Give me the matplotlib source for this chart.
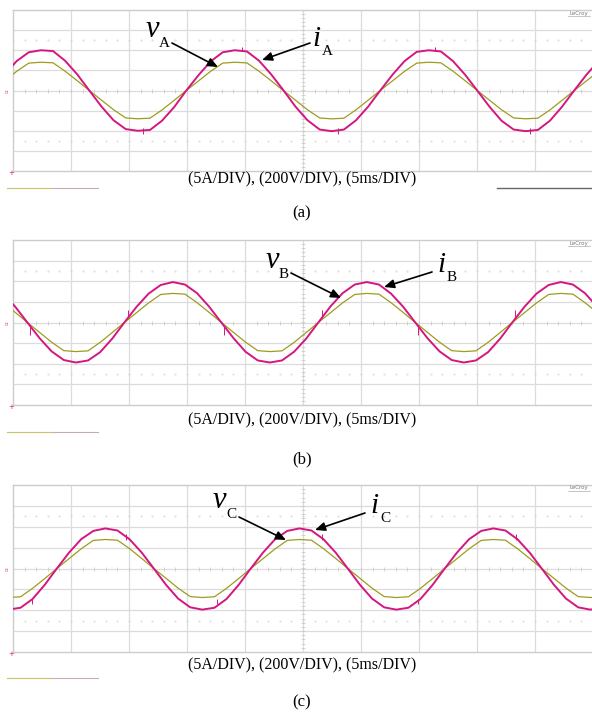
import numpy as np
import matplotlib
matplotlib.use("Agg")
import matplotlib.pyplot as plt
from matplotlib.lines import Line2D
from matplotlib.patches import FancyArrowPatch

# scope settings: 5 A/div, 200 V/div, 5 ms/div
A_PER_DIV = 5.0
V_PER_DIV = 200.0
MS_PER_DIV = 5.0

CUR_COLOR = "#d4177f"
VOLT_COLOR = "#9e9c1e"
GRID_COLOR = "#dcdcdc"

# ---------------- panel (a) : phase A ----------------
t_a = [-1.78, -0.74, 0.31, 1.36, 2.40, 3.45, 4.49, 5.54, 6.58, 7.63,
       8.67, 9.72, 10.76, 11.81, 12.85, 13.90, 14.94, 15.99, 17.03, 18.08,
       19.12, 20.17, 21.21, 22.26, 23.30, 24.35, 25.39, 26.44, 27.48, 28.53,
       29.57, 30.62, 31.66, 32.71, 33.75, 34.80, 35.84, 36.89, 37.93, 38.98,
       40.02, 41.07, 42.11, 43.16, 44.20, 45.25, 46.29, 47.34, 48.38, 49.43,
       50.47]
i_a = [0.0, 3.9, 7.3, 9.5, 10.0, 9.8, 7.4, 4.0,
       0.0, -4.0, -7.4, -9.6, -10.0, -9.8, -7.5, -4.1,
       0.0, 3.8, 7.2, 9.5, 10.0, 9.7, 7.4, 4.0,
       0.1, -4.0, -7.4, -9.7, -10.1, -9.7, -7.4, -4.0,
       0.0, 3.9, 7.3, 9.6, 10.0, 9.7, 7.3, 3.9,
       0.0, -4.0, -7.5, -9.7, -10.1, -9.8, -7.5, -4.0,
       0.0, 3.9, 7.3]
v_a = [0, 95, 190, 272, 281, 275, 192, 97,
       0, -96, -191, -273, -281, -275, -193, -97,
       0, 95, 190, 272, 281, 274, 191, 96,
       0, -96, -192, -273, -282, -275, -192, -96,
       0, 95, 190, 272, 281, 275, 192, 97,
       0, -96, -191, -273, -281, -275, -193, -97,
       0, 95, 190]
spike_t_a = [11.2, 19.7, 28.0, 36.4, 44.6]
spike_lo_a = [-10.9, 9.9, -10.9, 9.9, -10.9]
spike_hi_a = [-9.3, 10.9, -9.3, 10.9, -9.3]

# ---------------- panel (b) : phase B ----------------
t_b = [-0.85, 0.20, 1.24, 2.29, 3.33, 4.38, 5.42, 6.47, 7.51, 8.56,
       9.60, 10.65, 11.69, 12.74, 13.78, 14.83, 15.87, 16.92, 17.96, 19.01,
       20.05, 21.10, 22.14, 23.19, 24.23, 25.28, 26.32, 27.37, 28.41, 29.46,
       30.50, 31.55, 32.59, 33.64, 34.68, 35.73, 36.77, 37.82, 38.86, 39.91,
       40.95, 42.00, 43.04, 44.09, 45.13, 46.18, 47.22, 48.27, 49.31, 50.36]
i_b = [7.1, 3.8,
       0.0, -3.8, -7.0, -9.1, -9.7, -9.2, -7.2, -3.9,
       0.0, 3.8, 7.0, 9.1, 9.8, 9.2, 7.1, 3.8,
       0.0, -3.8, -7.1, -9.2, -9.7, -9.2, -7.1, -3.9,
       0.0, 3.9, 7.1, 9.2, 9.8, 9.2, 7.0, 3.8,
       0.0, -3.8, -7.0, -9.1, -9.7, -9.2, -7.2, -3.9,
       0.0, 3.8, 7.0, 9.1, 9.8, 9.2, 7.1, 3.8]
v_b = [192, 97,
       0, -96, -191, -273, -282, -275, -193, -97,
       0, 95, 190, 272, 282, 275, 192, 97,
       0, -96, -191, -273, -282, -275, -193, -97,
       0, 95, 190, 272, 282, 275, 192, 97,
       0, -96, -191, -273, -282, -275, -193, -97,
       0, 95, 190, 272, 282, 275, 192, 97]
spike_t_b = [1.5, 9.9, 18.2, 26.6, 34.9, 43.3]
spike_lo_b = [-3.0, 1.0, -3.0, 1.0, -3.0, 1.0]
spike_hi_b = [-1.0, 3.0, -1.0, 3.0, -1.0, 3.0]

# ---------------- panel (c) : phase C ----------------
t_c = [-0.40, 0.65, 1.69, 2.74, 3.78, 4.83, 5.87, 6.92, 7.96, 9.01,
       10.05, 11.10, 12.14, 13.19, 14.23, 15.28, 16.32, 17.37, 18.41, 19.46,
       20.50, 21.55, 22.59, 23.64, 24.68, 25.73, 26.77, 27.82, 28.86, 29.91,
       30.95, 32.00, 33.04, 34.09, 35.13, 36.18, 37.22, 38.27, 39.31, 40.36,
       41.40, 42.45, 43.49, 44.54, 45.58, 46.63, 47.67, 48.72, 49.76, 50.81]
i_c = [-9.85, -9.4, -7.3, -3.9,
       0.0, 3.8, 7.0, 9.0, 9.6, 9.1, 7.0, 3.8,
       0.0, -3.9, -7.2, -9.3, -9.85, -9.4, -7.3, -3.9,
       0.0, 3.8, 7.0, 9.0, 9.6, 9.1, 7.0, 3.8,
       0.0, -3.9, -7.2, -9.3, -9.85, -9.4, -7.3, -3.9,
       0.0, 3.8, 7.0, 9.0, 9.6, 9.1, 7.0, 3.8,
       0.0, -3.9, -7.2, -9.3, -9.85, -9.4]
v_c = [-278, -271, -190, -96,
       0, 94, 188, 269, 278, 271, 190, 96,
       0, -94, -188, -269, -278, -271, -190, -96,
       0, 94, 188, 269, 278, 271, 190, 96,
       0, -94, -188, -269, -278, -271, -190, -96,
       0, 94, 188, 269, 278, 271, 190, 96,
       0, -94, -188, -269, -278, -271]
spike_t_c = [1.6, 9.7, 17.6, 26.6, 34.9, 43.4]
spike_lo_c = [-8.6, 6.8, -8.6, 6.8, -8.6, 6.8]
spike_hi_c = [-7.2, 8.2, -7.2, 8.2, -7.2, 8.2]

caption = "(5A/DIV), (200V/DIV), (5ms/DIV)"
panel_tags = ["(a)", "(b)", "(c)"]

#-----------------------------------------------------#

W, H = 592, 713
fig = plt.figure(figsize=(W / 100, H / 100), dpi=100)
SERIF = ["Liberation Serif", "DejaVu Serif"]


def fx(px):
    return px / W


def fy(py):
    return 1 - py / H


def fig_line(x0, x1, y, color, lw=1.0):
    fig.add_artist(Line2D([fx(x0), fx(x1)], [fy(y), fy(y)], color=color,
                          lw=lw, transform=fig.transFigure))


def scope_panel(top, bottom, t, cur, volt, sp_t, sp_lo, sp_hi):
    ax = fig.add_axes([fx(13), fy(bottom), fx(580), (bottom - top) / H])
    ax.set_xlim(0, 10)
    ax.set_ylim(-4, 4)
    ax.set_xticks([])
    ax.set_yticks([])
    for s in ax.spines.values():
        s.set_color("#cccccc")
        s.set_linewidth(1.0)
    for gx in range(1, 10):
        ax.axvline(gx, color=GRID_COLOR, lw=0.9, zorder=1)
    for gy in range(-3, 4):
        ax.axhline(gy, color=GRID_COLOR, lw=0.9, zorder=1)
    # fine ticks on the centre cross and faint dotted rows
    fine = np.arange(0, 10.01, 0.2)
    ax.plot(fine, np.zeros_like(fine), ls="none", marker="|", ms=2.6,
            mew=0.5, color="#c4c4c4", zorder=1)
    fine_y = np.arange(-4, 4.01, 0.2)
    ax.plot(np.full_like(fine_y, 5), fine_y, ls="none", marker="_", ms=2.6,
            mew=0.5, color="#c4c4c4", zorder=1)
    for dy in (2.5, -2.5):
        ax.plot(fine, np.full_like(fine, dy), ls="none", marker=".", ms=0.8,
                color="#d4d4d4", zorder=1)

    tt = np.array(t) / MS_PER_DIV
    ax.plot(tt, np.array(volt) / V_PER_DIV, color=VOLT_COLOR, lw=0.9, zorder=3)
    ax.plot(tt, np.array(cur) / A_PER_DIV, color=CUR_COLOR, lw=1.4, zorder=4)
    ax.vlines(np.array(sp_t) / MS_PER_DIV, np.array(sp_lo) / A_PER_DIV,
              np.array(sp_hi) / A_PER_DIV, color=CUR_COLOR, lw=0.7, zorder=4)
    return ax


def label(xv, yv, xi, yi, name, v_tail, v_head, i_tail, i_head):
    fig.text(fx(xv), fy(yv), "v", family=SERIF, style="italic", fontsize=22,
             ha="left", va="baseline")
    fig.text(fx(xv + 13), fy(yv + 10), name, family=SERIF, fontsize=11,
             ha="left", va="baseline")
    fig.text(fx(xi), fy(yi), "i", family=SERIF, style="italic", fontsize=21,
             ha="left", va="baseline")
    fig.text(fx(xi + 10), fy(yi + 9), name, family=SERIF, fontsize=11,
             ha="left", va="baseline")
    for tail, head in ((v_tail, v_head), (i_tail, i_head)):
        fig.add_artist(FancyArrowPatch(
            (fx(tail[0]), fy(tail[1])), (fx(head[0]), fy(head[1])),
            transform=fig.transFigure,
            arrowstyle="-|>,head_length=6,head_width=2.6",
            color="black", lw=1.2, shrinkA=0, shrinkB=0))


panels = [
    (10, 171, t_a, i_a, v_a, spike_t_a, spike_lo_a, spike_hi_a),
    (240, 405, t_b, i_b, v_b, spike_t_b, spike_lo_b, spike_hi_b),
    (485, 652, t_c, i_c, v_c, spike_t_c, spike_lo_c, spike_hi_c),
]
cap_y = [179, 420, 665]
tag_y = [213, 459, 702]
ind_y = [188, 432, 678]

for n, p in enumerate(panels):
    top, bottom = p[0], p[1]
    scope_panel(*p)
    mid = (top + bottom) / 2
    fig.text(fx(8), fy(mid), "C2", color=CUR_COLOR, fontsize=2.5,
             ha="center", va="center", rotation=90)
    fig.text(fx(11), fy(bottom + 2), "+", color=CUR_COLOR, fontsize=5,
             ha="center", va="center")
    fig.text(fx(579), fy(top + 3), "LeCroy", color="#777777", fontsize=4,
             ha="center", va="center")
    fig_line(568, 590, top + 5.5, "#999999", 0.4)
    fig_line(7, 52, ind_y[n], "#c8c468", 0.8)
    fig_line(53, 98, ind_y[n], "#c9a8b8", 0.8)
    fig.text(fx(302), fy(cap_y[n]), caption, family=SERIF, fontsize=11.5,
             ha="center", va="center")
    fig.text(fx(302), fy(tag_y[n]), panel_tags[n], family=SERIF, fontsize=12,
             ha="center", va="center")

fig_line(497, 592, 188, "#666666", 1.0)

label(146, 37, 312, 46, "A", (172, 43), (218, 67), (310, 43), (262, 60))
label(266, 268, 437, 272, "B", (291, 273), (341, 298), (432, 272), (384, 287))
label(213, 508, 370, 513, "C", (239, 517), (286, 540), (365, 513), (315, 530))

fig.savefig("out.png", dpi=100)
